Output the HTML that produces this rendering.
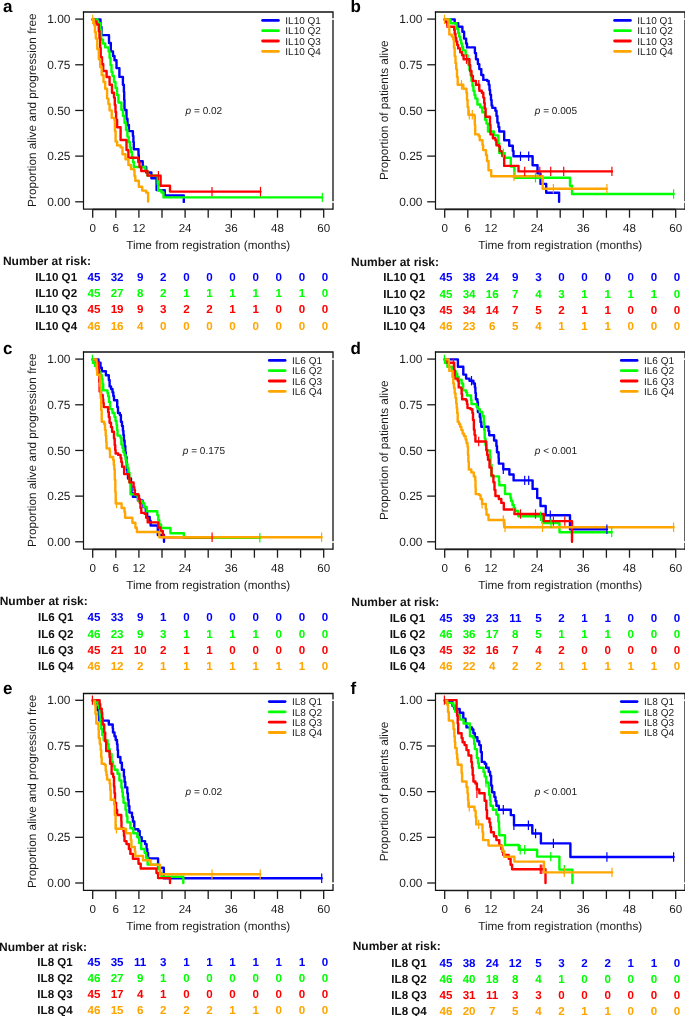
<!DOCTYPE html><html><head><meta charset="utf-8"><style>html,body{margin:0;padding:0;background:#fff;}svg{display:block;will-change:transform;} text{text-rendering:geometricPrecision;}</style></head><body>
<svg width="685" height="1016" viewBox="0 0 685 1016" font-family='"Liberation Sans", sans-serif'>
<rect x="0" y="0" width="685" height="1016" fill="#fff"/>
<g transform="translate(0,0)">
<text x="3" y="12.3" font-size="17" font-weight="bold" fill="#000">a</text>
<g transform="translate(0,0)">
<path d="M92.7 19.4H100.5V27H101.5V35.1H109V43H110.8V51.4H113V56H114.5V60.2H116.5V68.1H119.4V76.9H122.9V84.8H123.9V92H124.2V100H124.5V110H126.5V118.8H127.5V125H128.9V131.1H132.9V136H133.4V142H133.8V149.3H138.5V155H138.8V161.3H142.7V167H146.2V172.5H151.4V178.3H156.6V190.1H164.8V195.5H183.8V201.9" fill="none" stroke="#0000FF" stroke-width="2.4" stroke-linejoin="round" stroke-linecap="round"/>
<path d="M92.7 19.4H97.5V23.3H100.5V30H101.2V39.6H103V43.5H105.2V47.4H108.6V51.4H109.6V58H110.5V65H111.5V72H112.5V76H114V82H115.5V88H117V95H118.4V102.5H121.4V110H123V116H124.5V122.8H126V130H127.4V136.5H128.6V142H129.9V147.4H131V152H131.9V157.2H133V162H133.8V167H145.3V171H147.5V175.6H157.7V184H158.2V190.5H161.5V192.5H163.5V197.4H322.3" fill="none" stroke="#00FF00" stroke-width="2.4" stroke-linejoin="round" stroke-linecap="round"/>
<path d="M92.7 19.4H94.5V21.5H96.5V24.5H98.8V31H99.5V38.6H100.2V48H100.7V57.3H102V64H103.2V71H106.6V77H109.6V84.8H112V92.7H114V97.6H114.8V105H115.5V112H116.1V119.8H117.1V127.2H120.6V140H126.5V150H128.4V157.7H138.3V162.1H139.5V167H141.2V171H147.5V175.6H160.6V185.8H170V191.6H260.5" fill="none" stroke="#FF0000" stroke-width="2.4" stroke-linejoin="round" stroke-linecap="round"/>
<path d="M92.7 19.4H94V25H95V32H95.8V38.6H97.3V49H98.8V59.2H100.2V67H101.7V75H103.5V82H105.2V88.7H107.1V98.6H108.4V104H109.6V110.4H111.7V117.9H114.2V119.8H114.9V131H115.6V141.5H117.1V145.4H120.6V147.4H122.5V154.2H125.5V159.2H128.4V165H130.9V169H133.8V170H134.5V176H135.3V180.8H138.8V186.7H142.2V190.6H146.1V192.6H148.1V201.6" fill="none" stroke="#FFA500" stroke-width="2.4" stroke-linejoin="round" stroke-linecap="round"/>
<line x1="322.3" y1="192.7" x2="322.3" y2="202.1" stroke="#00FF00" stroke-width="1.2"/>
<line x1="158.4" y1="170.9" x2="158.4" y2="180.3" stroke="#FF0000" stroke-width="1.2"/>
<line x1="212" y1="186.9" x2="212" y2="196.3" stroke="#FF0000" stroke-width="1.2"/>
<line x1="260.5" y1="186.9" x2="260.5" y2="196.3" stroke="#FF0000" stroke-width="1.2"/>
<line x1="92.7" y1="14.7" x2="92.7" y2="24.1" stroke="#FFA500" stroke-width="1.2"/>
</g>
<path d="M83.5 11.4V209.2H333" fill="none" stroke="#111" stroke-width="1.2"/>
<path d="M82.9 12H333V209.8" fill="none" stroke="#111" stroke-width="1.3"/>
<rect x="332" y="18.25" width="2.4" height="1.6" fill="#fff"/>
<rect x="332" y="201.2" width="2.4" height="1.6" fill="#fff"/>
<line x1="75.2" y1="201.8" x2="83.5" y2="201.8" stroke="#1a1a1a" stroke-width="1.3"/>
<text x="70.4" y="205.95" font-size="11.9" text-anchor="end" fill="#1a1a1a">0.00</text>
<line x1="75.2" y1="156.12" x2="83.5" y2="156.12" stroke="#1a1a1a" stroke-width="1.3"/>
<text x="70.4" y="160.28" font-size="11.9" text-anchor="end" fill="#1a1a1a">0.25</text>
<line x1="75.2" y1="110.45" x2="83.5" y2="110.45" stroke="#1a1a1a" stroke-width="1.3"/>
<text x="70.4" y="114.6" font-size="11.9" text-anchor="end" fill="#1a1a1a">0.50</text>
<line x1="75.2" y1="64.78" x2="83.5" y2="64.78" stroke="#1a1a1a" stroke-width="1.3"/>
<text x="70.4" y="68.93" font-size="11.9" text-anchor="end" fill="#1a1a1a">0.75</text>
<line x1="75.2" y1="19.1" x2="83.5" y2="19.1" stroke="#1a1a1a" stroke-width="1.3"/>
<text x="70.4" y="23.25" font-size="11.9" text-anchor="end" fill="#1a1a1a">1.00</text>
<line x1="92.7" y1="209.5" x2="323.7" y2="209.5" stroke="#1a1a1a" stroke-width="1.3"/>
<line x1="92.7" y1="209.2" x2="92.7" y2="217.7" stroke="#1a1a1a" stroke-width="1.3"/>
<text x="92.7" y="231.6" font-size="11.6" text-anchor="middle" fill="#1a1a1a">0</text>
<line x1="115.8" y1="209.2" x2="115.8" y2="217.7" stroke="#1a1a1a" stroke-width="1.3"/>
<text x="115.8" y="231.6" font-size="11.6" text-anchor="middle" fill="#1a1a1a">6</text>
<line x1="138.9" y1="209.2" x2="138.9" y2="217.7" stroke="#1a1a1a" stroke-width="1.3"/>
<text x="138.9" y="231.6" font-size="11.6" text-anchor="middle" fill="#1a1a1a">12</text>
<line x1="162" y1="209.2" x2="162" y2="217.7" stroke="#1a1a1a" stroke-width="1.3"/>
<line x1="185.1" y1="209.2" x2="185.1" y2="217.7" stroke="#1a1a1a" stroke-width="1.3"/>
<text x="185.1" y="231.6" font-size="11.6" text-anchor="middle" fill="#1a1a1a">24</text>
<line x1="208.2" y1="209.2" x2="208.2" y2="217.7" stroke="#1a1a1a" stroke-width="1.3"/>
<line x1="231.3" y1="209.2" x2="231.3" y2="217.7" stroke="#1a1a1a" stroke-width="1.3"/>
<text x="231.3" y="231.6" font-size="11.6" text-anchor="middle" fill="#1a1a1a">36</text>
<line x1="254.4" y1="209.2" x2="254.4" y2="217.7" stroke="#1a1a1a" stroke-width="1.3"/>
<line x1="277.5" y1="209.2" x2="277.5" y2="217.7" stroke="#1a1a1a" stroke-width="1.3"/>
<text x="277.5" y="231.6" font-size="11.6" text-anchor="middle" fill="#1a1a1a">48</text>
<line x1="300.6" y1="209.2" x2="300.6" y2="217.7" stroke="#1a1a1a" stroke-width="1.3"/>
<line x1="323.7" y1="209.2" x2="323.7" y2="217.7" stroke="#1a1a1a" stroke-width="1.3"/>
<text x="323.7" y="231.6" font-size="11.6" text-anchor="middle" fill="#1a1a1a">60</text>
<text x="208.2" y="248.6" font-size="11.8" text-anchor="middle" fill="#1a1a1a">Time from registration (months)</text>
<text transform="translate(35.9,110.2) rotate(-90)" x="0" y="0" font-size="11.8" text-anchor="middle" fill="#1a1a1a">Proportion alive and progression free</text>
<line x1="262.6" y1="20.4" x2="278.4" y2="20.4" stroke="#0000FF" stroke-width="2.8" stroke-linecap="round"/>
<text x="285.3" y="24.1" font-size="10" fill="#1a1a1a">IL10 Q1</text>
<line x1="262.6" y1="30.7" x2="278.4" y2="30.7" stroke="#00FF00" stroke-width="2.8" stroke-linecap="round"/>
<text x="285.3" y="34.4" font-size="10" fill="#1a1a1a">IL10 Q2</text>
<line x1="262.6" y1="41" x2="278.4" y2="41" stroke="#FF0000" stroke-width="2.8" stroke-linecap="round"/>
<text x="285.3" y="44.7" font-size="10" fill="#1a1a1a">IL10 Q3</text>
<line x1="262.6" y1="51.3" x2="278.4" y2="51.3" stroke="#FFA500" stroke-width="2.8" stroke-linecap="round"/>
<text x="285.3" y="55" font-size="10" fill="#1a1a1a">IL10 Q4</text>
<text x="203.9" y="114" font-size="10.05" text-anchor="middle" fill="#1a1a1a"><tspan font-style="italic">p</tspan> = 0.02</text>
</g>
<text x="2.9" y="265.2" font-size="12" font-weight="bold" fill="#111">Number at risk:</text>
<text x="77.1" y="281.1" font-size="11.6" font-weight="bold" text-anchor="end" fill="#111">IL10 Q1</text>
<text x="94" y="281.1" font-size="11.6" font-weight="bold" text-anchor="middle" fill="#0000FF">45</text>
<text x="117.1" y="281.1" font-size="11.6" font-weight="bold" text-anchor="middle" fill="#0000FF">32</text>
<text x="140.2" y="281.1" font-size="11.6" font-weight="bold" text-anchor="middle" fill="#0000FF">9</text>
<text x="163.3" y="281.1" font-size="11.6" font-weight="bold" text-anchor="middle" fill="#0000FF">2</text>
<text x="186.4" y="281.1" font-size="11.6" font-weight="bold" text-anchor="middle" fill="#0000FF">0</text>
<text x="209.5" y="281.1" font-size="11.6" font-weight="bold" text-anchor="middle" fill="#0000FF">0</text>
<text x="232.6" y="281.1" font-size="11.6" font-weight="bold" text-anchor="middle" fill="#0000FF">0</text>
<text x="255.7" y="281.1" font-size="11.6" font-weight="bold" text-anchor="middle" fill="#0000FF">0</text>
<text x="278.8" y="281.1" font-size="11.6" font-weight="bold" text-anchor="middle" fill="#0000FF">0</text>
<text x="301.9" y="281.1" font-size="11.6" font-weight="bold" text-anchor="middle" fill="#0000FF">0</text>
<text x="325" y="281.1" font-size="11.6" font-weight="bold" text-anchor="middle" fill="#0000FF">0</text>
<text x="77.1" y="297.3" font-size="11.6" font-weight="bold" text-anchor="end" fill="#111">IL10 Q2</text>
<text x="94" y="297.3" font-size="11.6" font-weight="bold" text-anchor="middle" fill="#00FF00">45</text>
<text x="117.1" y="297.3" font-size="11.6" font-weight="bold" text-anchor="middle" fill="#00FF00">27</text>
<text x="140.2" y="297.3" font-size="11.6" font-weight="bold" text-anchor="middle" fill="#00FF00">8</text>
<text x="163.3" y="297.3" font-size="11.6" font-weight="bold" text-anchor="middle" fill="#00FF00">2</text>
<text x="186.4" y="297.3" font-size="11.6" font-weight="bold" text-anchor="middle" fill="#00FF00">1</text>
<text x="209.5" y="297.3" font-size="11.6" font-weight="bold" text-anchor="middle" fill="#00FF00">1</text>
<text x="232.6" y="297.3" font-size="11.6" font-weight="bold" text-anchor="middle" fill="#00FF00">1</text>
<text x="255.7" y="297.3" font-size="11.6" font-weight="bold" text-anchor="middle" fill="#00FF00">1</text>
<text x="278.8" y="297.3" font-size="11.6" font-weight="bold" text-anchor="middle" fill="#00FF00">1</text>
<text x="301.9" y="297.3" font-size="11.6" font-weight="bold" text-anchor="middle" fill="#00FF00">1</text>
<text x="325" y="297.3" font-size="11.6" font-weight="bold" text-anchor="middle" fill="#00FF00">0</text>
<text x="77.1" y="313.3" font-size="11.6" font-weight="bold" text-anchor="end" fill="#111">IL10 Q3</text>
<text x="94" y="313.3" font-size="11.6" font-weight="bold" text-anchor="middle" fill="#FF0000">45</text>
<text x="117.1" y="313.3" font-size="11.6" font-weight="bold" text-anchor="middle" fill="#FF0000">19</text>
<text x="140.2" y="313.3" font-size="11.6" font-weight="bold" text-anchor="middle" fill="#FF0000">9</text>
<text x="163.3" y="313.3" font-size="11.6" font-weight="bold" text-anchor="middle" fill="#FF0000">3</text>
<text x="186.4" y="313.3" font-size="11.6" font-weight="bold" text-anchor="middle" fill="#FF0000">2</text>
<text x="209.5" y="313.3" font-size="11.6" font-weight="bold" text-anchor="middle" fill="#FF0000">2</text>
<text x="232.6" y="313.3" font-size="11.6" font-weight="bold" text-anchor="middle" fill="#FF0000">1</text>
<text x="255.7" y="313.3" font-size="11.6" font-weight="bold" text-anchor="middle" fill="#FF0000">1</text>
<text x="278.8" y="313.3" font-size="11.6" font-weight="bold" text-anchor="middle" fill="#FF0000">0</text>
<text x="301.9" y="313.3" font-size="11.6" font-weight="bold" text-anchor="middle" fill="#FF0000">0</text>
<text x="325" y="313.3" font-size="11.6" font-weight="bold" text-anchor="middle" fill="#FF0000">0</text>
<text x="77.1" y="329.5" font-size="11.6" font-weight="bold" text-anchor="end" fill="#111">IL10 Q4</text>
<text x="94" y="329.5" font-size="11.6" font-weight="bold" text-anchor="middle" fill="#FFA500">46</text>
<text x="117.1" y="329.5" font-size="11.6" font-weight="bold" text-anchor="middle" fill="#FFA500">16</text>
<text x="140.2" y="329.5" font-size="11.6" font-weight="bold" text-anchor="middle" fill="#FFA500">4</text>
<text x="163.3" y="329.5" font-size="11.6" font-weight="bold" text-anchor="middle" fill="#FFA500">0</text>
<text x="186.4" y="329.5" font-size="11.6" font-weight="bold" text-anchor="middle" fill="#FFA500">0</text>
<text x="209.5" y="329.5" font-size="11.6" font-weight="bold" text-anchor="middle" fill="#FFA500">0</text>
<text x="232.6" y="329.5" font-size="11.6" font-weight="bold" text-anchor="middle" fill="#FFA500">0</text>
<text x="255.7" y="329.5" font-size="11.6" font-weight="bold" text-anchor="middle" fill="#FFA500">0</text>
<text x="278.8" y="329.5" font-size="11.6" font-weight="bold" text-anchor="middle" fill="#FFA500">0</text>
<text x="301.9" y="329.5" font-size="11.6" font-weight="bold" text-anchor="middle" fill="#FFA500">0</text>
<text x="325" y="329.5" font-size="11.6" font-weight="bold" text-anchor="middle" fill="#FFA500">0</text>
<g transform="translate(352,0)">
<text x="-1.4" y="12.3" font-size="17" font-weight="bold" fill="#000">b</text>
<g transform="translate(-352,0)">
<path d="M444.7 19.4H454.7V23.3H458.2V26.8H462.4V31.7H464.1V38.6H466.1V43.5H467V47.4H474.9V53H476V59.2H477.9V64.1H479.3V69.1H481.3V75H483.3V79.9H487.2V80.9H488.7V84.8H489.5V90H490.1V94.6H491V100H491.6V105.4H492.4V107.9H495.4V110.8H496.5V116H497.4V122.6H498.5V127H499.3V131.5H504.2V140.3H509.2V145.7H512.8V151H513.5V156.3H532.6V165.2H537.5V173.4H540.5V183.9H546.2V192.8H559.1V201.8" fill="none" stroke="#0000FF" stroke-width="2.4" stroke-linejoin="round" stroke-linecap="round"/>
<path d="M444.7 19.4H450.5V23.3H456.5V28.7H458.2V33H459.2V36.6H460.2V40H461.1V43.5H462.1V47H463.1V50.4H465.6V55.3H467.5V61.2H468.5V65H469.5V70H470.5V75H471.5V80.9H472.5V86H473.4V90.7H474.5V95H475.4V98.6H477.4V104.5H480.3V107.4H482.3V112.3H485.1V119.7H486.5V123.6H488V131.5H493.9V135.4H498.3V143.3H499.3V153.1H504.7V157.8H510.8V166.5H514.4V177.8H570V185.8H572V194H673.6" fill="none" stroke="#00FF00" stroke-width="2.4" stroke-linejoin="round" stroke-linecap="round"/>
<path d="M444.7 19.4H445.5V22H447.4V26.8H454.2V30H454.7V33.7H455.5V38H456.2V41.5H457.2V45H458.2V48.4H460.2V52.3H462.1V55.3H463.6V59.2H469.5V65H470.2V71H471.5V76H472.9V80.9H475.9V84.8H479.3V90.7H481.8V92.7H483.3V97.6H484.2V103H484.7V108.4H485.6V116.7H490V125H490.5V134.4H492.9V138.3H495.4V140.3H496.4V145.2H498.8V146.2H499.8V151.1H501.8V152.1H502.3V156H504.2V165.9H518.5V171.4H611.9" fill="none" stroke="#FF0000" stroke-width="2.4" stroke-linejoin="round" stroke-linecap="round"/>
<path d="M444.7 19.4H448.4V27H449.3V34.6H451.8V36.6H453.3V39.6H454V48H454.7V56.3H455.5V63H456.2V69.1H457V77H457.7V84.8H463.3V88.7H466.5V93H467V100H467.6V107H468.4V114.7H474.3V116H474.8V125H475.2V134.4H478.7V136H479.7V140.3H482.5V145H483.1V150.1H486V155H487V161H488.5V170.3H491.2V176.2H542.7V188.8H606.9" fill="none" stroke="#FFA500" stroke-width="2.4" stroke-linejoin="round" stroke-linecap="round"/>
<line x1="520.5" y1="151.6" x2="520.5" y2="161" stroke="#0000FF" stroke-width="1.2"/>
<line x1="528.7" y1="151.6" x2="528.7" y2="161" stroke="#0000FF" stroke-width="1.2"/>
<line x1="503.3" y1="148.4" x2="503.3" y2="157.8" stroke="#00FF00" stroke-width="1.2"/>
<line x1="535.5" y1="173.1" x2="535.5" y2="182.5" stroke="#00FF00" stroke-width="1.2"/>
<line x1="673.6" y1="189.3" x2="673.6" y2="198.7" stroke="#00FF00" stroke-width="1.2"/>
<line x1="466.5" y1="54.5" x2="466.5" y2="63.9" stroke="#FF0000" stroke-width="1.2"/>
<line x1="478.8" y1="80.1" x2="478.8" y2="89.5" stroke="#FF0000" stroke-width="1.2"/>
<line x1="524.7" y1="166.7" x2="524.7" y2="176.1" stroke="#FF0000" stroke-width="1.2"/>
<line x1="539.8" y1="166.7" x2="539.8" y2="176.1" stroke="#FF0000" stroke-width="1.2"/>
<line x1="550.7" y1="166.7" x2="550.7" y2="176.1" stroke="#FF0000" stroke-width="1.2"/>
<line x1="563.7" y1="166.7" x2="563.7" y2="176.1" stroke="#FF0000" stroke-width="1.2"/>
<line x1="611.9" y1="166.7" x2="611.9" y2="176.1" stroke="#FF0000" stroke-width="1.2"/>
<line x1="444.5" y1="14.7" x2="444.5" y2="24.1" stroke="#FFA500" stroke-width="1.2"/>
<line x1="461.5" y1="80.1" x2="461.5" y2="89.5" stroke="#FFA500" stroke-width="1.2"/>
<line x1="469.3" y1="110" x2="469.3" y2="119.4" stroke="#FFA500" stroke-width="1.2"/>
<line x1="472.3" y1="110" x2="472.3" y2="119.4" stroke="#FFA500" stroke-width="1.2"/>
<line x1="514" y1="171.5" x2="514" y2="180.9" stroke="#FFA500" stroke-width="1.2"/>
<line x1="553.4" y1="184.1" x2="553.4" y2="193.5" stroke="#FFA500" stroke-width="1.2"/>
<line x1="606.9" y1="184.1" x2="606.9" y2="193.5" stroke="#FFA500" stroke-width="1.2"/>
</g>
<path d="M83.5 11.4V209.2H333" fill="none" stroke="#111" stroke-width="1.2"/>
<path d="M82.9 12H333V209.8" fill="none" stroke="#111" stroke-width="1.3"/>
<rect x="332" y="18.25" width="2.4" height="1.6" fill="#fff"/>
<rect x="332" y="201.2" width="2.4" height="1.6" fill="#fff"/>
<line x1="75.2" y1="201.8" x2="83.5" y2="201.8" stroke="#1a1a1a" stroke-width="1.3"/>
<text x="70.4" y="205.95" font-size="11.9" text-anchor="end" fill="#1a1a1a">0.00</text>
<line x1="75.2" y1="156.12" x2="83.5" y2="156.12" stroke="#1a1a1a" stroke-width="1.3"/>
<text x="70.4" y="160.28" font-size="11.9" text-anchor="end" fill="#1a1a1a">0.25</text>
<line x1="75.2" y1="110.45" x2="83.5" y2="110.45" stroke="#1a1a1a" stroke-width="1.3"/>
<text x="70.4" y="114.6" font-size="11.9" text-anchor="end" fill="#1a1a1a">0.50</text>
<line x1="75.2" y1="64.78" x2="83.5" y2="64.78" stroke="#1a1a1a" stroke-width="1.3"/>
<text x="70.4" y="68.93" font-size="11.9" text-anchor="end" fill="#1a1a1a">0.75</text>
<line x1="75.2" y1="19.1" x2="83.5" y2="19.1" stroke="#1a1a1a" stroke-width="1.3"/>
<text x="70.4" y="23.25" font-size="11.9" text-anchor="end" fill="#1a1a1a">1.00</text>
<line x1="92.7" y1="209.5" x2="323.7" y2="209.5" stroke="#1a1a1a" stroke-width="1.3"/>
<line x1="92.7" y1="209.2" x2="92.7" y2="217.7" stroke="#1a1a1a" stroke-width="1.3"/>
<text x="92.7" y="231.6" font-size="11.6" text-anchor="middle" fill="#1a1a1a">0</text>
<line x1="115.8" y1="209.2" x2="115.8" y2="217.7" stroke="#1a1a1a" stroke-width="1.3"/>
<text x="115.8" y="231.6" font-size="11.6" text-anchor="middle" fill="#1a1a1a">6</text>
<line x1="138.9" y1="209.2" x2="138.9" y2="217.7" stroke="#1a1a1a" stroke-width="1.3"/>
<text x="138.9" y="231.6" font-size="11.6" text-anchor="middle" fill="#1a1a1a">12</text>
<line x1="162" y1="209.2" x2="162" y2="217.7" stroke="#1a1a1a" stroke-width="1.3"/>
<line x1="185.1" y1="209.2" x2="185.1" y2="217.7" stroke="#1a1a1a" stroke-width="1.3"/>
<text x="185.1" y="231.6" font-size="11.6" text-anchor="middle" fill="#1a1a1a">24</text>
<line x1="208.2" y1="209.2" x2="208.2" y2="217.7" stroke="#1a1a1a" stroke-width="1.3"/>
<line x1="231.3" y1="209.2" x2="231.3" y2="217.7" stroke="#1a1a1a" stroke-width="1.3"/>
<text x="231.3" y="231.6" font-size="11.6" text-anchor="middle" fill="#1a1a1a">36</text>
<line x1="254.4" y1="209.2" x2="254.4" y2="217.7" stroke="#1a1a1a" stroke-width="1.3"/>
<line x1="277.5" y1="209.2" x2="277.5" y2="217.7" stroke="#1a1a1a" stroke-width="1.3"/>
<text x="277.5" y="231.6" font-size="11.6" text-anchor="middle" fill="#1a1a1a">48</text>
<line x1="300.6" y1="209.2" x2="300.6" y2="217.7" stroke="#1a1a1a" stroke-width="1.3"/>
<line x1="323.7" y1="209.2" x2="323.7" y2="217.7" stroke="#1a1a1a" stroke-width="1.3"/>
<text x="323.7" y="231.6" font-size="11.6" text-anchor="middle" fill="#1a1a1a">60</text>
<text x="208.2" y="248.6" font-size="11.8" text-anchor="middle" fill="#1a1a1a">Time from registration (months)</text>
<text transform="translate(35.9,110.2) rotate(-90)" x="0" y="0" font-size="11.8" text-anchor="middle" fill="#1a1a1a">Proportion of patients alive</text>
<line x1="262.6" y1="20.4" x2="278.4" y2="20.4" stroke="#0000FF" stroke-width="2.8" stroke-linecap="round"/>
<text x="285.3" y="24.1" font-size="10" fill="#1a1a1a">IL10 Q1</text>
<line x1="262.6" y1="30.7" x2="278.4" y2="30.7" stroke="#00FF00" stroke-width="2.8" stroke-linecap="round"/>
<text x="285.3" y="34.4" font-size="10" fill="#1a1a1a">IL10 Q2</text>
<line x1="262.6" y1="41" x2="278.4" y2="41" stroke="#FF0000" stroke-width="2.8" stroke-linecap="round"/>
<text x="285.3" y="44.7" font-size="10" fill="#1a1a1a">IL10 Q3</text>
<line x1="262.6" y1="51.3" x2="278.4" y2="51.3" stroke="#FFA500" stroke-width="2.8" stroke-linecap="round"/>
<text x="285.3" y="55" font-size="10" fill="#1a1a1a">IL10 Q4</text>
<text x="203.9" y="114" font-size="10.05" text-anchor="middle" fill="#1a1a1a"><tspan font-style="italic">p</tspan> = 0.005</text>
</g>
<text x="351" y="265.6" font-size="12" font-weight="bold" fill="#111">Number at risk:</text>
<text x="425.1" y="281.4" font-size="11.6" font-weight="bold" text-anchor="end" fill="#111">IL10 Q1</text>
<text x="446" y="281.4" font-size="11.6" font-weight="bold" text-anchor="middle" fill="#0000FF">45</text>
<text x="469.1" y="281.4" font-size="11.6" font-weight="bold" text-anchor="middle" fill="#0000FF">38</text>
<text x="492.2" y="281.4" font-size="11.6" font-weight="bold" text-anchor="middle" fill="#0000FF">24</text>
<text x="515.3" y="281.4" font-size="11.6" font-weight="bold" text-anchor="middle" fill="#0000FF">9</text>
<text x="538.4" y="281.4" font-size="11.6" font-weight="bold" text-anchor="middle" fill="#0000FF">3</text>
<text x="561.5" y="281.4" font-size="11.6" font-weight="bold" text-anchor="middle" fill="#0000FF">0</text>
<text x="584.6" y="281.4" font-size="11.6" font-weight="bold" text-anchor="middle" fill="#0000FF">0</text>
<text x="607.7" y="281.4" font-size="11.6" font-weight="bold" text-anchor="middle" fill="#0000FF">0</text>
<text x="630.8" y="281.4" font-size="11.6" font-weight="bold" text-anchor="middle" fill="#0000FF">0</text>
<text x="653.9" y="281.4" font-size="11.6" font-weight="bold" text-anchor="middle" fill="#0000FF">0</text>
<text x="677" y="281.4" font-size="11.6" font-weight="bold" text-anchor="middle" fill="#0000FF">0</text>
<text x="425.1" y="297.6" font-size="11.6" font-weight="bold" text-anchor="end" fill="#111">IL10 Q2</text>
<text x="446" y="297.6" font-size="11.6" font-weight="bold" text-anchor="middle" fill="#00FF00">45</text>
<text x="469.1" y="297.6" font-size="11.6" font-weight="bold" text-anchor="middle" fill="#00FF00">34</text>
<text x="492.2" y="297.6" font-size="11.6" font-weight="bold" text-anchor="middle" fill="#00FF00">16</text>
<text x="515.3" y="297.6" font-size="11.6" font-weight="bold" text-anchor="middle" fill="#00FF00">7</text>
<text x="538.4" y="297.6" font-size="11.6" font-weight="bold" text-anchor="middle" fill="#00FF00">4</text>
<text x="561.5" y="297.6" font-size="11.6" font-weight="bold" text-anchor="middle" fill="#00FF00">3</text>
<text x="584.6" y="297.6" font-size="11.6" font-weight="bold" text-anchor="middle" fill="#00FF00">1</text>
<text x="607.7" y="297.6" font-size="11.6" font-weight="bold" text-anchor="middle" fill="#00FF00">1</text>
<text x="630.8" y="297.6" font-size="11.6" font-weight="bold" text-anchor="middle" fill="#00FF00">1</text>
<text x="653.9" y="297.6" font-size="11.6" font-weight="bold" text-anchor="middle" fill="#00FF00">1</text>
<text x="677" y="297.6" font-size="11.6" font-weight="bold" text-anchor="middle" fill="#00FF00">0</text>
<text x="425.1" y="313.8" font-size="11.6" font-weight="bold" text-anchor="end" fill="#111">IL10 Q3</text>
<text x="446" y="313.8" font-size="11.6" font-weight="bold" text-anchor="middle" fill="#FF0000">45</text>
<text x="469.1" y="313.8" font-size="11.6" font-weight="bold" text-anchor="middle" fill="#FF0000">34</text>
<text x="492.2" y="313.8" font-size="11.6" font-weight="bold" text-anchor="middle" fill="#FF0000">14</text>
<text x="515.3" y="313.8" font-size="11.6" font-weight="bold" text-anchor="middle" fill="#FF0000">7</text>
<text x="538.4" y="313.8" font-size="11.6" font-weight="bold" text-anchor="middle" fill="#FF0000">5</text>
<text x="561.5" y="313.8" font-size="11.6" font-weight="bold" text-anchor="middle" fill="#FF0000">2</text>
<text x="584.6" y="313.8" font-size="11.6" font-weight="bold" text-anchor="middle" fill="#FF0000">1</text>
<text x="607.7" y="313.8" font-size="11.6" font-weight="bold" text-anchor="middle" fill="#FF0000">1</text>
<text x="630.8" y="313.8" font-size="11.6" font-weight="bold" text-anchor="middle" fill="#FF0000">0</text>
<text x="653.9" y="313.8" font-size="11.6" font-weight="bold" text-anchor="middle" fill="#FF0000">0</text>
<text x="677" y="313.8" font-size="11.6" font-weight="bold" text-anchor="middle" fill="#FF0000">0</text>
<text x="425.1" y="329.8" font-size="11.6" font-weight="bold" text-anchor="end" fill="#111">IL10 Q4</text>
<text x="446" y="329.8" font-size="11.6" font-weight="bold" text-anchor="middle" fill="#FFA500">46</text>
<text x="469.1" y="329.8" font-size="11.6" font-weight="bold" text-anchor="middle" fill="#FFA500">23</text>
<text x="492.2" y="329.8" font-size="11.6" font-weight="bold" text-anchor="middle" fill="#FFA500">6</text>
<text x="515.3" y="329.8" font-size="11.6" font-weight="bold" text-anchor="middle" fill="#FFA500">5</text>
<text x="538.4" y="329.8" font-size="11.6" font-weight="bold" text-anchor="middle" fill="#FFA500">4</text>
<text x="561.5" y="329.8" font-size="11.6" font-weight="bold" text-anchor="middle" fill="#FFA500">1</text>
<text x="584.6" y="329.8" font-size="11.6" font-weight="bold" text-anchor="middle" fill="#FFA500">1</text>
<text x="607.7" y="329.8" font-size="11.6" font-weight="bold" text-anchor="middle" fill="#FFA500">1</text>
<text x="630.8" y="329.8" font-size="11.6" font-weight="bold" text-anchor="middle" fill="#FFA500">0</text>
<text x="653.9" y="329.8" font-size="11.6" font-weight="bold" text-anchor="middle" fill="#FFA500">0</text>
<text x="677" y="329.8" font-size="11.6" font-weight="bold" text-anchor="middle" fill="#FFA500">0</text>
<g transform="translate(0,340)">
<text x="3" y="13.5" font-size="17" font-weight="bold" fill="#000">c</text>
<g transform="translate(0,-340)">
<path d="M92.7 359.4H98.5V362.8H100.5V367.8H101.8V371.2H105.9V375.3H108.8V380H109.6V386.4H111V389H112.5V392.3H113.3V396H114V400.2H117.2V407H118V413H119.9V415H120.9V421.8H122V426H122.9V430.7H123.4V435H123.9V440.5H124.6V446H125.3V452.3H125.8V457H126.5V462.8H126.8V469.7H127.5V474H128V478.5H131V486H131.5V493.3H132.9V496.7H137.9V500.5H142.5V503H143.5V507H145.8V511H147.2V516.9H149.7V520.8H150.6V525.5H157.8V535H164V541.8" fill="none" stroke="#0000FF" stroke-width="2.4" stroke-linejoin="round" stroke-linecap="round"/>
<path d="M92.7 359.4H93.5V363H95V366H97V369H99V372H100.5V375H101.7V378.6H102.5V384H103.2V390.4H107.5V393H108.1V396.3H109V402H110.1V409.1H112.5V413H114.5V416.9H115.5V421H116.5V424.8H117V430H117.5V435.6H120.4V437.6H121.4V444.5H122.5V448H123.4V452.3H124.5V455H125.6V459.8H126.5V464H127.5V468H128.5V472.6H129.5V482.4H130.5V494.2H137.5V497H138.3V501.1H142.3V503.1H144.2V507H146.7V511.3H157.3V515.1H158.3V520H159.3V524.5H161.1V528H170.4V533.2H183.9V537.8H259.8" fill="none" stroke="#00FF00" stroke-width="2.4" stroke-linejoin="round" stroke-linecap="round"/>
<path d="M92.7 359.4H96V362.8H98.8V368H99V374H99.3V382H99.6V391.4H101V395H102.7V399.2H103.2V403H103.7V407.1H108.1V412H108.8V417H109.6V422.8H111V427H112.1V431.7H114V438.6H114.7V445H115.2V450H115.6V453.5H118.2V454.9H120.6V457.9H121.3V462H122.1V466.7H124.1V474.1H128.9V478H129.5V482.4H133.6V487H134.3V490H134.9V494.2H138.3V495.5H139V499H139.8V503.1H140.5V508H141.3V512.9H144.7V513.9H146.2V517.8H147.7V522.4H158.3V527.5H160.5V531H162.8V534.4H163.5V537.3H212.1" fill="none" stroke="#FF0000" stroke-width="2.4" stroke-linejoin="round" stroke-linecap="round"/>
<path d="M92.7 359.4H96.5V364H96.8V370H97.2V374.8H99.8V378H100.2V386H100.7V398.2H101.2V410H101.7V421.8H104.2V424H105V430H105.7V435.6H106.2V442H106.6V448.4H109.6V450.4H110V457H113.2V460H113.8V465H114.3V469.7H114.8V480H115.3V492H115.7V503.5H121.6V508H124.5V512H125.1V517.8H132.4V522.8H135.4V527.7H136.9V532H159.3V537.3H321.6" fill="none" stroke="#FFA500" stroke-width="2.4" stroke-linejoin="round" stroke-linecap="round"/>
<line x1="92.4" y1="354.7" x2="92.4" y2="364.1" stroke="#00FF00" stroke-width="1.2"/>
<line x1="259.8" y1="533.1" x2="259.8" y2="542.5" stroke="#00FF00" stroke-width="1.2"/>
<line x1="212.1" y1="532.6" x2="212.1" y2="542" stroke="#FF0000" stroke-width="1.2"/>
<line x1="116.5" y1="498.8" x2="116.5" y2="508.2" stroke="#FFA500" stroke-width="1.2"/>
<line x1="321.6" y1="532.6" x2="321.6" y2="542" stroke="#FFA500" stroke-width="1.2"/>
</g>
<path d="M83.5 11.4V209.2H333" fill="none" stroke="#111" stroke-width="1.2"/>
<path d="M82.9 12H333V209.8" fill="none" stroke="#111" stroke-width="1.3"/>
<rect x="332" y="18.25" width="2.4" height="1.6" fill="#fff"/>
<rect x="332" y="201.2" width="2.4" height="1.6" fill="#fff"/>
<line x1="75.2" y1="201.8" x2="83.5" y2="201.8" stroke="#1a1a1a" stroke-width="1.3"/>
<text x="70.4" y="205.95" font-size="11.9" text-anchor="end" fill="#1a1a1a">0.00</text>
<line x1="75.2" y1="156.12" x2="83.5" y2="156.12" stroke="#1a1a1a" stroke-width="1.3"/>
<text x="70.4" y="160.28" font-size="11.9" text-anchor="end" fill="#1a1a1a">0.25</text>
<line x1="75.2" y1="110.45" x2="83.5" y2="110.45" stroke="#1a1a1a" stroke-width="1.3"/>
<text x="70.4" y="114.6" font-size="11.9" text-anchor="end" fill="#1a1a1a">0.50</text>
<line x1="75.2" y1="64.78" x2="83.5" y2="64.78" stroke="#1a1a1a" stroke-width="1.3"/>
<text x="70.4" y="68.93" font-size="11.9" text-anchor="end" fill="#1a1a1a">0.75</text>
<line x1="75.2" y1="19.1" x2="83.5" y2="19.1" stroke="#1a1a1a" stroke-width="1.3"/>
<text x="70.4" y="23.25" font-size="11.9" text-anchor="end" fill="#1a1a1a">1.00</text>
<line x1="92.7" y1="209.5" x2="323.7" y2="209.5" stroke="#1a1a1a" stroke-width="1.3"/>
<line x1="92.7" y1="209.2" x2="92.7" y2="217.7" stroke="#1a1a1a" stroke-width="1.3"/>
<text x="92.7" y="231.6" font-size="11.6" text-anchor="middle" fill="#1a1a1a">0</text>
<line x1="115.8" y1="209.2" x2="115.8" y2="217.7" stroke="#1a1a1a" stroke-width="1.3"/>
<text x="115.8" y="231.6" font-size="11.6" text-anchor="middle" fill="#1a1a1a">6</text>
<line x1="138.9" y1="209.2" x2="138.9" y2="217.7" stroke="#1a1a1a" stroke-width="1.3"/>
<text x="138.9" y="231.6" font-size="11.6" text-anchor="middle" fill="#1a1a1a">12</text>
<line x1="162" y1="209.2" x2="162" y2="217.7" stroke="#1a1a1a" stroke-width="1.3"/>
<line x1="185.1" y1="209.2" x2="185.1" y2="217.7" stroke="#1a1a1a" stroke-width="1.3"/>
<text x="185.1" y="231.6" font-size="11.6" text-anchor="middle" fill="#1a1a1a">24</text>
<line x1="208.2" y1="209.2" x2="208.2" y2="217.7" stroke="#1a1a1a" stroke-width="1.3"/>
<line x1="231.3" y1="209.2" x2="231.3" y2="217.7" stroke="#1a1a1a" stroke-width="1.3"/>
<text x="231.3" y="231.6" font-size="11.6" text-anchor="middle" fill="#1a1a1a">36</text>
<line x1="254.4" y1="209.2" x2="254.4" y2="217.7" stroke="#1a1a1a" stroke-width="1.3"/>
<line x1="277.5" y1="209.2" x2="277.5" y2="217.7" stroke="#1a1a1a" stroke-width="1.3"/>
<text x="277.5" y="231.6" font-size="11.6" text-anchor="middle" fill="#1a1a1a">48</text>
<line x1="300.6" y1="209.2" x2="300.6" y2="217.7" stroke="#1a1a1a" stroke-width="1.3"/>
<line x1="323.7" y1="209.2" x2="323.7" y2="217.7" stroke="#1a1a1a" stroke-width="1.3"/>
<text x="323.7" y="231.6" font-size="11.6" text-anchor="middle" fill="#1a1a1a">60</text>
<text x="208.2" y="248.6" font-size="11.8" text-anchor="middle" fill="#1a1a1a">Time from registration (months)</text>
<text transform="translate(35.9,110.2) rotate(-90)" x="0" y="0" font-size="11.8" text-anchor="middle" fill="#1a1a1a">Proportion alive and progression free</text>
<line x1="269.3" y1="20.4" x2="285.1" y2="20.4" stroke="#0000FF" stroke-width="2.8" stroke-linecap="round"/>
<text x="292" y="24.1" font-size="10" fill="#1a1a1a">IL6 Q1</text>
<line x1="269.3" y1="30.7" x2="285.1" y2="30.7" stroke="#00FF00" stroke-width="2.8" stroke-linecap="round"/>
<text x="292" y="34.4" font-size="10" fill="#1a1a1a">IL6 Q2</text>
<line x1="269.3" y1="41" x2="285.1" y2="41" stroke="#FF0000" stroke-width="2.8" stroke-linecap="round"/>
<text x="292" y="44.7" font-size="10" fill="#1a1a1a">IL6 Q3</text>
<line x1="269.3" y1="51.3" x2="285.1" y2="51.3" stroke="#FFA500" stroke-width="2.8" stroke-linecap="round"/>
<text x="292" y="55" font-size="10" fill="#1a1a1a">IL6 Q4</text>
<text x="203.9" y="114" font-size="10.05" text-anchor="middle" fill="#1a1a1a"><tspan font-style="italic">p</tspan> = 0.175</text>
</g>
<text x="-0.3" y="605.3" font-size="12" font-weight="bold" fill="#111">Number at risk:</text>
<text x="73.5" y="621.4" font-size="11.6" font-weight="bold" text-anchor="end" fill="#111">IL6 Q1</text>
<text x="94" y="621.4" font-size="11.6" font-weight="bold" text-anchor="middle" fill="#0000FF">45</text>
<text x="117.1" y="621.4" font-size="11.6" font-weight="bold" text-anchor="middle" fill="#0000FF">33</text>
<text x="140.2" y="621.4" font-size="11.6" font-weight="bold" text-anchor="middle" fill="#0000FF">9</text>
<text x="163.3" y="621.4" font-size="11.6" font-weight="bold" text-anchor="middle" fill="#0000FF">1</text>
<text x="186.4" y="621.4" font-size="11.6" font-weight="bold" text-anchor="middle" fill="#0000FF">0</text>
<text x="209.5" y="621.4" font-size="11.6" font-weight="bold" text-anchor="middle" fill="#0000FF">0</text>
<text x="232.6" y="621.4" font-size="11.6" font-weight="bold" text-anchor="middle" fill="#0000FF">0</text>
<text x="255.7" y="621.4" font-size="11.6" font-weight="bold" text-anchor="middle" fill="#0000FF">0</text>
<text x="278.8" y="621.4" font-size="11.6" font-weight="bold" text-anchor="middle" fill="#0000FF">0</text>
<text x="301.9" y="621.4" font-size="11.6" font-weight="bold" text-anchor="middle" fill="#0000FF">0</text>
<text x="325" y="621.4" font-size="11.6" font-weight="bold" text-anchor="middle" fill="#0000FF">0</text>
<text x="73.5" y="637.5" font-size="11.6" font-weight="bold" text-anchor="end" fill="#111">IL6 Q2</text>
<text x="94" y="637.5" font-size="11.6" font-weight="bold" text-anchor="middle" fill="#00FF00">46</text>
<text x="117.1" y="637.5" font-size="11.6" font-weight="bold" text-anchor="middle" fill="#00FF00">23</text>
<text x="140.2" y="637.5" font-size="11.6" font-weight="bold" text-anchor="middle" fill="#00FF00">9</text>
<text x="163.3" y="637.5" font-size="11.6" font-weight="bold" text-anchor="middle" fill="#00FF00">3</text>
<text x="186.4" y="637.5" font-size="11.6" font-weight="bold" text-anchor="middle" fill="#00FF00">1</text>
<text x="209.5" y="637.5" font-size="11.6" font-weight="bold" text-anchor="middle" fill="#00FF00">1</text>
<text x="232.6" y="637.5" font-size="11.6" font-weight="bold" text-anchor="middle" fill="#00FF00">1</text>
<text x="255.7" y="637.5" font-size="11.6" font-weight="bold" text-anchor="middle" fill="#00FF00">1</text>
<text x="278.8" y="637.5" font-size="11.6" font-weight="bold" text-anchor="middle" fill="#00FF00">0</text>
<text x="301.9" y="637.5" font-size="11.6" font-weight="bold" text-anchor="middle" fill="#00FF00">0</text>
<text x="325" y="637.5" font-size="11.6" font-weight="bold" text-anchor="middle" fill="#00FF00">0</text>
<text x="73.5" y="653.7" font-size="11.6" font-weight="bold" text-anchor="end" fill="#111">IL6 Q3</text>
<text x="94" y="653.7" font-size="11.6" font-weight="bold" text-anchor="middle" fill="#FF0000">45</text>
<text x="117.1" y="653.7" font-size="11.6" font-weight="bold" text-anchor="middle" fill="#FF0000">21</text>
<text x="140.2" y="653.7" font-size="11.6" font-weight="bold" text-anchor="middle" fill="#FF0000">10</text>
<text x="163.3" y="653.7" font-size="11.6" font-weight="bold" text-anchor="middle" fill="#FF0000">2</text>
<text x="186.4" y="653.7" font-size="11.6" font-weight="bold" text-anchor="middle" fill="#FF0000">1</text>
<text x="209.5" y="653.7" font-size="11.6" font-weight="bold" text-anchor="middle" fill="#FF0000">1</text>
<text x="232.6" y="653.7" font-size="11.6" font-weight="bold" text-anchor="middle" fill="#FF0000">0</text>
<text x="255.7" y="653.7" font-size="11.6" font-weight="bold" text-anchor="middle" fill="#FF0000">0</text>
<text x="278.8" y="653.7" font-size="11.6" font-weight="bold" text-anchor="middle" fill="#FF0000">0</text>
<text x="301.9" y="653.7" font-size="11.6" font-weight="bold" text-anchor="middle" fill="#FF0000">0</text>
<text x="325" y="653.7" font-size="11.6" font-weight="bold" text-anchor="middle" fill="#FF0000">0</text>
<text x="73.5" y="669.9" font-size="11.6" font-weight="bold" text-anchor="end" fill="#111">IL6 Q4</text>
<text x="94" y="669.9" font-size="11.6" font-weight="bold" text-anchor="middle" fill="#FFA500">46</text>
<text x="117.1" y="669.9" font-size="11.6" font-weight="bold" text-anchor="middle" fill="#FFA500">12</text>
<text x="140.2" y="669.9" font-size="11.6" font-weight="bold" text-anchor="middle" fill="#FFA500">2</text>
<text x="163.3" y="669.9" font-size="11.6" font-weight="bold" text-anchor="middle" fill="#FFA500">1</text>
<text x="186.4" y="669.9" font-size="11.6" font-weight="bold" text-anchor="middle" fill="#FFA500">1</text>
<text x="209.5" y="669.9" font-size="11.6" font-weight="bold" text-anchor="middle" fill="#FFA500">1</text>
<text x="232.6" y="669.9" font-size="11.6" font-weight="bold" text-anchor="middle" fill="#FFA500">1</text>
<text x="255.7" y="669.9" font-size="11.6" font-weight="bold" text-anchor="middle" fill="#FFA500">1</text>
<text x="278.8" y="669.9" font-size="11.6" font-weight="bold" text-anchor="middle" fill="#FFA500">1</text>
<text x="301.9" y="669.9" font-size="11.6" font-weight="bold" text-anchor="middle" fill="#FFA500">1</text>
<text x="325" y="669.9" font-size="11.6" font-weight="bold" text-anchor="middle" fill="#FFA500">0</text>
<g transform="translate(352,340)">
<text x="-1.6" y="13.6" font-size="17" font-weight="bold" fill="#000">d</text>
<g transform="translate(-352,-340)">
<path d="M444.7 359.4H457.9V366.8H463.3V374.6H466.1V378.6H469.5V380.7H473.4V383.5H474.9V387.4H475.4V393H475.9V399.2H477.4V402.2H477.9V412H479.8V416.9H480.5V422H481.3V426.8H488.5V431H489.2V435.2H494.1V440.5H496.4V446H497V452.3H498.6V458H498.8V463.6H503.3V469.3H509.4V474.5H513.6V480.4H532.6V488.9H537.2V498.1H540.5V506H545.7V515.2H570V529.2H606.9" fill="none" stroke="#0000FF" stroke-width="2.4" stroke-linejoin="round" stroke-linecap="round"/>
<path d="M444.7 359.4H446V363H447.4V366.8H451.8V368.7H453.5V371H455.7V373.7H457.2V377H458.7V379.6H461.6V383.5H463.1V390.4H466.1V392.3H467V395.5H471V400H471.5V404.1H476.6V407H477.9V409.1H479.8V412H482.3V416H483.8V422.8H484.2V430H484.7V438.6H485.5V445H486.2V450.4H490V457H490.5V464.6H491.5V476.4H499V481H499.3V485.2H505V494H510.5V498H511.2V501H512.5V505H513.8V508H515.1V511H518.3V516.3H542.5V523.1H559.5V532.2H611.7" fill="none" stroke="#00FF00" stroke-width="2.4" stroke-linejoin="round" stroke-linecap="round"/>
<path d="M444.7 359.4H447.5V362.8H454.2V370H454.7V378.6H457.7V380.7H458.7V387.4H461.1V388.6H461.6V394H462.1V399.2H466.1V400.4H467V404H467.5V408.1H470.5V409.3H472.4V413H473V420H473.9V429.7H474.6V435H475.4V441.5H486.3V449.8H487.2V455H488V459.7H489.5V467.5H491.5V475.4H493.4V482.3H494.5V490H495.4V496H498.8V499H501.3V502.9H503.8V509.5H514.4V514H543.8V521.1H572V541.8" fill="none" stroke="#FF0000" stroke-width="2.4" stroke-linejoin="round" stroke-linecap="round"/>
<path d="M444.7 359.4H448.8V365H449.3V370.9H452.5V377H453.3V383.5H454V388H454.7V393.3H455.5V398H456.2V403.2H456.7V408H457.2V413H457.7V421.8H459V424H460.2V426.8H461.4V430H462.6V433.6H464V436H465.6V439.5H466.5V443H467.5V446.4H468V455H468.4V462H468.8V469.5H471.3V472.4H473.8V476.4H475.2V480.3H475.5V487H475.7V494.1H479.2V495.1H480.6V499H482.1V503.9H485.8V509H486.5V514.7H488.5V520H504.2V527.3H673.6" fill="none" stroke="#FFA500" stroke-width="2.4" stroke-linejoin="round" stroke-linecap="round"/>
<line x1="471.5" y1="376" x2="471.5" y2="385.4" stroke="#0000FF" stroke-width="1.2"/>
<line x1="503.3" y1="464.6" x2="503.3" y2="474" stroke="#0000FF" stroke-width="1.2"/>
<line x1="524.7" y1="475.7" x2="524.7" y2="485.1" stroke="#0000FF" stroke-width="1.2"/>
<line x1="528.7" y1="475.7" x2="528.7" y2="485.1" stroke="#0000FF" stroke-width="1.2"/>
<line x1="550.3" y1="510.5" x2="550.3" y2="519.9" stroke="#0000FF" stroke-width="1.2"/>
<line x1="606.9" y1="524.5" x2="606.9" y2="533.9" stroke="#0000FF" stroke-width="1.2"/>
<line x1="444.4" y1="354.7" x2="444.4" y2="364.1" stroke="#00FF00" stroke-width="1.2"/>
<line x1="513.6" y1="503.3" x2="513.6" y2="512.7" stroke="#00FF00" stroke-width="1.2"/>
<line x1="540.5" y1="511.6" x2="540.5" y2="521" stroke="#00FF00" stroke-width="1.2"/>
<line x1="551" y1="518.4" x2="551" y2="527.8" stroke="#00FF00" stroke-width="1.2"/>
<line x1="611.7" y1="527.5" x2="611.7" y2="536.9" stroke="#00FF00" stroke-width="1.2"/>
<line x1="453.3" y1="358.1" x2="453.3" y2="367.5" stroke="#FF0000" stroke-width="1.2"/>
<line x1="478.7" y1="436.8" x2="478.7" y2="446.2" stroke="#FF0000" stroke-width="1.2"/>
<line x1="520.5" y1="509.3" x2="520.5" y2="518.7" stroke="#FF0000" stroke-width="1.2"/>
<line x1="535.5" y1="509.3" x2="535.5" y2="518.7" stroke="#FF0000" stroke-width="1.2"/>
<line x1="553.4" y1="516.4" x2="553.4" y2="525.8" stroke="#FF0000" stroke-width="1.2"/>
<line x1="564.8" y1="516.4" x2="564.8" y2="525.8" stroke="#FF0000" stroke-width="1.2"/>
<line x1="482.1" y1="499.2" x2="482.1" y2="508.6" stroke="#FFA500" stroke-width="1.2"/>
<line x1="503.3" y1="515.3" x2="503.3" y2="524.7" stroke="#FFA500" stroke-width="1.2"/>
<line x1="505" y1="522.6" x2="505" y2="532" stroke="#FFA500" stroke-width="1.2"/>
<line x1="542.5" y1="522.6" x2="542.5" y2="532" stroke="#FFA500" stroke-width="1.2"/>
<line x1="673.6" y1="522.6" x2="673.6" y2="532" stroke="#FFA500" stroke-width="1.2"/>
</g>
<path d="M83.5 11.4V209.2H333" fill="none" stroke="#111" stroke-width="1.2"/>
<path d="M82.9 12H333V209.8" fill="none" stroke="#111" stroke-width="1.3"/>
<rect x="332" y="18.25" width="2.4" height="1.6" fill="#fff"/>
<rect x="332" y="201.2" width="2.4" height="1.6" fill="#fff"/>
<line x1="75.2" y1="201.8" x2="83.5" y2="201.8" stroke="#1a1a1a" stroke-width="1.3"/>
<text x="70.4" y="205.95" font-size="11.9" text-anchor="end" fill="#1a1a1a">0.00</text>
<line x1="75.2" y1="156.12" x2="83.5" y2="156.12" stroke="#1a1a1a" stroke-width="1.3"/>
<text x="70.4" y="160.28" font-size="11.9" text-anchor="end" fill="#1a1a1a">0.25</text>
<line x1="75.2" y1="110.45" x2="83.5" y2="110.45" stroke="#1a1a1a" stroke-width="1.3"/>
<text x="70.4" y="114.6" font-size="11.9" text-anchor="end" fill="#1a1a1a">0.50</text>
<line x1="75.2" y1="64.78" x2="83.5" y2="64.78" stroke="#1a1a1a" stroke-width="1.3"/>
<text x="70.4" y="68.93" font-size="11.9" text-anchor="end" fill="#1a1a1a">0.75</text>
<line x1="75.2" y1="19.1" x2="83.5" y2="19.1" stroke="#1a1a1a" stroke-width="1.3"/>
<text x="70.4" y="23.25" font-size="11.9" text-anchor="end" fill="#1a1a1a">1.00</text>
<line x1="92.7" y1="209.5" x2="323.7" y2="209.5" stroke="#1a1a1a" stroke-width="1.3"/>
<line x1="92.7" y1="209.2" x2="92.7" y2="217.7" stroke="#1a1a1a" stroke-width="1.3"/>
<text x="92.7" y="231.6" font-size="11.6" text-anchor="middle" fill="#1a1a1a">0</text>
<line x1="115.8" y1="209.2" x2="115.8" y2="217.7" stroke="#1a1a1a" stroke-width="1.3"/>
<text x="115.8" y="231.6" font-size="11.6" text-anchor="middle" fill="#1a1a1a">6</text>
<line x1="138.9" y1="209.2" x2="138.9" y2="217.7" stroke="#1a1a1a" stroke-width="1.3"/>
<text x="138.9" y="231.6" font-size="11.6" text-anchor="middle" fill="#1a1a1a">12</text>
<line x1="162" y1="209.2" x2="162" y2="217.7" stroke="#1a1a1a" stroke-width="1.3"/>
<line x1="185.1" y1="209.2" x2="185.1" y2="217.7" stroke="#1a1a1a" stroke-width="1.3"/>
<text x="185.1" y="231.6" font-size="11.6" text-anchor="middle" fill="#1a1a1a">24</text>
<line x1="208.2" y1="209.2" x2="208.2" y2="217.7" stroke="#1a1a1a" stroke-width="1.3"/>
<line x1="231.3" y1="209.2" x2="231.3" y2="217.7" stroke="#1a1a1a" stroke-width="1.3"/>
<text x="231.3" y="231.6" font-size="11.6" text-anchor="middle" fill="#1a1a1a">36</text>
<line x1="254.4" y1="209.2" x2="254.4" y2="217.7" stroke="#1a1a1a" stroke-width="1.3"/>
<line x1="277.5" y1="209.2" x2="277.5" y2="217.7" stroke="#1a1a1a" stroke-width="1.3"/>
<text x="277.5" y="231.6" font-size="11.6" text-anchor="middle" fill="#1a1a1a">48</text>
<line x1="300.6" y1="209.2" x2="300.6" y2="217.7" stroke="#1a1a1a" stroke-width="1.3"/>
<line x1="323.7" y1="209.2" x2="323.7" y2="217.7" stroke="#1a1a1a" stroke-width="1.3"/>
<text x="323.7" y="231.6" font-size="11.6" text-anchor="middle" fill="#1a1a1a">60</text>
<text x="208.2" y="248.6" font-size="11.8" text-anchor="middle" fill="#1a1a1a">Time from registration (months)</text>
<text transform="translate(35.9,110.2) rotate(-90)" x="0" y="0" font-size="11.8" text-anchor="middle" fill="#1a1a1a">Proportion of patients alive</text>
<line x1="269.3" y1="20.4" x2="285.1" y2="20.4" stroke="#0000FF" stroke-width="2.8" stroke-linecap="round"/>
<text x="292" y="24.1" font-size="10" fill="#1a1a1a">IL6 Q1</text>
<line x1="269.3" y1="30.7" x2="285.1" y2="30.7" stroke="#00FF00" stroke-width="2.8" stroke-linecap="round"/>
<text x="292" y="34.4" font-size="10" fill="#1a1a1a">IL6 Q2</text>
<line x1="269.3" y1="41" x2="285.1" y2="41" stroke="#FF0000" stroke-width="2.8" stroke-linecap="round"/>
<text x="292" y="44.7" font-size="10" fill="#1a1a1a">IL6 Q3</text>
<line x1="269.3" y1="51.3" x2="285.1" y2="51.3" stroke="#FFA500" stroke-width="2.8" stroke-linecap="round"/>
<text x="292" y="55" font-size="10" fill="#1a1a1a">IL6 Q4</text>
<text x="203.9" y="114" font-size="10.05" text-anchor="middle" fill="#1a1a1a"><tspan font-style="italic">p</tspan> &lt; 0.001</text>
</g>
<text x="351.3" y="605.7" font-size="12" font-weight="bold" fill="#111">Number at risk:</text>
<text x="425.1" y="621.5" font-size="11.6" font-weight="bold" text-anchor="end" fill="#111">IL6 Q1</text>
<text x="446" y="621.5" font-size="11.6" font-weight="bold" text-anchor="middle" fill="#0000FF">45</text>
<text x="469.1" y="621.5" font-size="11.6" font-weight="bold" text-anchor="middle" fill="#0000FF">39</text>
<text x="492.2" y="621.5" font-size="11.6" font-weight="bold" text-anchor="middle" fill="#0000FF">23</text>
<text x="515.3" y="621.5" font-size="11.6" font-weight="bold" text-anchor="middle" fill="#0000FF">11</text>
<text x="538.4" y="621.5" font-size="11.6" font-weight="bold" text-anchor="middle" fill="#0000FF">5</text>
<text x="561.5" y="621.5" font-size="11.6" font-weight="bold" text-anchor="middle" fill="#0000FF">2</text>
<text x="584.6" y="621.5" font-size="11.6" font-weight="bold" text-anchor="middle" fill="#0000FF">1</text>
<text x="607.7" y="621.5" font-size="11.6" font-weight="bold" text-anchor="middle" fill="#0000FF">1</text>
<text x="630.8" y="621.5" font-size="11.6" font-weight="bold" text-anchor="middle" fill="#0000FF">0</text>
<text x="653.9" y="621.5" font-size="11.6" font-weight="bold" text-anchor="middle" fill="#0000FF">0</text>
<text x="677" y="621.5" font-size="11.6" font-weight="bold" text-anchor="middle" fill="#0000FF">0</text>
<text x="425.1" y="637.7" font-size="11.6" font-weight="bold" text-anchor="end" fill="#111">IL6 Q2</text>
<text x="446" y="637.7" font-size="11.6" font-weight="bold" text-anchor="middle" fill="#00FF00">46</text>
<text x="469.1" y="637.7" font-size="11.6" font-weight="bold" text-anchor="middle" fill="#00FF00">36</text>
<text x="492.2" y="637.7" font-size="11.6" font-weight="bold" text-anchor="middle" fill="#00FF00">17</text>
<text x="515.3" y="637.7" font-size="11.6" font-weight="bold" text-anchor="middle" fill="#00FF00">8</text>
<text x="538.4" y="637.7" font-size="11.6" font-weight="bold" text-anchor="middle" fill="#00FF00">5</text>
<text x="561.5" y="637.7" font-size="11.6" font-weight="bold" text-anchor="middle" fill="#00FF00">1</text>
<text x="584.6" y="637.7" font-size="11.6" font-weight="bold" text-anchor="middle" fill="#00FF00">1</text>
<text x="607.7" y="637.7" font-size="11.6" font-weight="bold" text-anchor="middle" fill="#00FF00">1</text>
<text x="630.8" y="637.7" font-size="11.6" font-weight="bold" text-anchor="middle" fill="#00FF00">0</text>
<text x="653.9" y="637.7" font-size="11.6" font-weight="bold" text-anchor="middle" fill="#00FF00">0</text>
<text x="677" y="637.7" font-size="11.6" font-weight="bold" text-anchor="middle" fill="#00FF00">0</text>
<text x="425.1" y="653.9" font-size="11.6" font-weight="bold" text-anchor="end" fill="#111">IL6 Q3</text>
<text x="446" y="653.9" font-size="11.6" font-weight="bold" text-anchor="middle" fill="#FF0000">45</text>
<text x="469.1" y="653.9" font-size="11.6" font-weight="bold" text-anchor="middle" fill="#FF0000">32</text>
<text x="492.2" y="653.9" font-size="11.6" font-weight="bold" text-anchor="middle" fill="#FF0000">16</text>
<text x="515.3" y="653.9" font-size="11.6" font-weight="bold" text-anchor="middle" fill="#FF0000">7</text>
<text x="538.4" y="653.9" font-size="11.6" font-weight="bold" text-anchor="middle" fill="#FF0000">4</text>
<text x="561.5" y="653.9" font-size="11.6" font-weight="bold" text-anchor="middle" fill="#FF0000">2</text>
<text x="584.6" y="653.9" font-size="11.6" font-weight="bold" text-anchor="middle" fill="#FF0000">0</text>
<text x="607.7" y="653.9" font-size="11.6" font-weight="bold" text-anchor="middle" fill="#FF0000">0</text>
<text x="630.8" y="653.9" font-size="11.6" font-weight="bold" text-anchor="middle" fill="#FF0000">0</text>
<text x="653.9" y="653.9" font-size="11.6" font-weight="bold" text-anchor="middle" fill="#FF0000">0</text>
<text x="677" y="653.9" font-size="11.6" font-weight="bold" text-anchor="middle" fill="#FF0000">0</text>
<text x="425.1" y="669.9" font-size="11.6" font-weight="bold" text-anchor="end" fill="#111">IL6 Q4</text>
<text x="446" y="669.9" font-size="11.6" font-weight="bold" text-anchor="middle" fill="#FFA500">46</text>
<text x="469.1" y="669.9" font-size="11.6" font-weight="bold" text-anchor="middle" fill="#FFA500">22</text>
<text x="492.2" y="669.9" font-size="11.6" font-weight="bold" text-anchor="middle" fill="#FFA500">4</text>
<text x="515.3" y="669.9" font-size="11.6" font-weight="bold" text-anchor="middle" fill="#FFA500">2</text>
<text x="538.4" y="669.9" font-size="11.6" font-weight="bold" text-anchor="middle" fill="#FFA500">2</text>
<text x="561.5" y="669.9" font-size="11.6" font-weight="bold" text-anchor="middle" fill="#FFA500">1</text>
<text x="584.6" y="669.9" font-size="11.6" font-weight="bold" text-anchor="middle" fill="#FFA500">1</text>
<text x="607.7" y="669.9" font-size="11.6" font-weight="bold" text-anchor="middle" fill="#FFA500">1</text>
<text x="630.8" y="669.9" font-size="11.6" font-weight="bold" text-anchor="middle" fill="#FFA500">1</text>
<text x="653.9" y="669.9" font-size="11.6" font-weight="bold" text-anchor="middle" fill="#FFA500">1</text>
<text x="677" y="669.9" font-size="11.6" font-weight="bold" text-anchor="middle" fill="#FFA500">0</text>
<g transform="translate(0,681.2)">
<text x="3" y="13.1" font-size="17" font-weight="bold" fill="#000">e</text>
<g transform="translate(0,-681.2)">
<path d="M92.7 700.6H96V704H97.5V710H98.8V715H99.3V720.6H108.8V724.5H112.7V728H113V732.4H114.5V736.3H115.7V740H117V744.2H117.5V750H118V757H120.4V762.8H121.9V769.7H123.9V776.6H124.6V782H125.3V787.4H127.3V793.3H127.9V799.8H128.6V806H129.4V812.6H132V817H132.9V821.5H134.3V829.3H138.3V831H139.7V837.2H141.7V841.1H145.1V844.1H146.6V849H147.3V853H148.1V858.4H158.1V867.8H163.8V878.2H321.7" fill="none" stroke="#0000FF" stroke-width="2.4" stroke-linejoin="round" stroke-linecap="round"/>
<path d="M92.7 700.6H95.8V702H97.5V705H99V708H99.8V715H100.5V722H101.3V729H102.3V735H103.7V740.2H107.6V744.2H108.6V749H109.6V754H111.6V761.9H113V766H114.5V769.7H117.5V773.7H119.4V780.5H121.4V787.4H122.2V792H122.8V797H123.5V802.8H125.5V809.7H126.5V816H127.4V822.4H130.4V828.3H133.3V833.3H137.3V837.2H139.2V843.1H141.2V849H144.7V852.9H146.1V857.8H147.6V864.6H158.5V869H160V873H161.4V876.8H183.3V883" fill="none" stroke="#00FF00" stroke-width="2.4" stroke-linejoin="round" stroke-linecap="round"/>
<path d="M92.7 700.1H99.6V704H100.2V708.8H101.7V712.7H102.2V718H102.7V724.5H104.2V732.4H105.2V741.2H106.2V751H109.6V757H110.1V763.8H111.6V773.7H113.2V777H114V786.4H114.5V793H115V802.8H116.1V809.7H117.1V815H121.3V821H121.5V828.3H123.5V831.3H124V836H124.5V841.1H126.5V844.1H128.9V849H130.4V853.9H132.9V858.8H138.5V863.7H140.7V868.5H156.5V873H158.1V878.1H170V883" fill="none" stroke="#FF0000" stroke-width="2.4" stroke-linejoin="round" stroke-linecap="round"/>
<path d="M92.7 700.6H94.8V704.8H95.5V714H96.3V723.5H98.5V730H98.8V738.3H99.8V744H100.7V750.1H101.2V757H101.7V763.8H104.7V765H105.7V770.7H106.4V775H107.1V779.6H109.6V783.5H110.2V790H110.7V799.8H114.2V804.7H114.8V815H115.6V828.8H126V833.3H130.8V840H131.4V847H134.8V851H135.3V855.9H143V860.3H150.5V864.8H160V874.3H260.2" fill="none" stroke="#FFA500" stroke-width="2.4" stroke-linejoin="round" stroke-linecap="round"/>
<line x1="321.7" y1="873.5" x2="321.7" y2="882.9" stroke="#0000FF" stroke-width="1.2"/>
<line x1="92.4" y1="695.4" x2="92.4" y2="704.8" stroke="#FF0000" stroke-width="1.2"/>
<line x1="116.4" y1="824.1" x2="116.4" y2="833.5" stroke="#FFA500" stroke-width="1.2"/>
<line x1="212" y1="869.6" x2="212" y2="879" stroke="#FFA500" stroke-width="1.2"/>
<line x1="260.2" y1="869.6" x2="260.2" y2="879" stroke="#FFA500" stroke-width="1.2"/>
</g>
<path d="M83.5 11.7V209.2H333" fill="none" stroke="#111" stroke-width="1.2"/>
<path d="M82.9 12.3H333V209.8" fill="none" stroke="#111" stroke-width="1.3"/>
<rect x="332" y="18.25" width="2.4" height="1.6" fill="#fff"/>
<rect x="332" y="201.2" width="2.4" height="1.6" fill="#fff"/>
<line x1="75.2" y1="201.8" x2="83.5" y2="201.8" stroke="#1a1a1a" stroke-width="1.3"/>
<text x="70.4" y="205.95" font-size="11.9" text-anchor="end" fill="#1a1a1a">0.00</text>
<line x1="75.2" y1="156.12" x2="83.5" y2="156.12" stroke="#1a1a1a" stroke-width="1.3"/>
<text x="70.4" y="160.28" font-size="11.9" text-anchor="end" fill="#1a1a1a">0.25</text>
<line x1="75.2" y1="110.45" x2="83.5" y2="110.45" stroke="#1a1a1a" stroke-width="1.3"/>
<text x="70.4" y="114.6" font-size="11.9" text-anchor="end" fill="#1a1a1a">0.50</text>
<line x1="75.2" y1="64.78" x2="83.5" y2="64.78" stroke="#1a1a1a" stroke-width="1.3"/>
<text x="70.4" y="68.93" font-size="11.9" text-anchor="end" fill="#1a1a1a">0.75</text>
<line x1="75.2" y1="19.1" x2="83.5" y2="19.1" stroke="#1a1a1a" stroke-width="1.3"/>
<text x="70.4" y="23.25" font-size="11.9" text-anchor="end" fill="#1a1a1a">1.00</text>
<line x1="92.7" y1="209.5" x2="323.7" y2="209.5" stroke="#1a1a1a" stroke-width="1.3"/>
<line x1="92.7" y1="209.2" x2="92.7" y2="217.7" stroke="#1a1a1a" stroke-width="1.3"/>
<text x="92.7" y="231.6" font-size="11.6" text-anchor="middle" fill="#1a1a1a">0</text>
<line x1="115.8" y1="209.2" x2="115.8" y2="217.7" stroke="#1a1a1a" stroke-width="1.3"/>
<text x="115.8" y="231.6" font-size="11.6" text-anchor="middle" fill="#1a1a1a">6</text>
<line x1="138.9" y1="209.2" x2="138.9" y2="217.7" stroke="#1a1a1a" stroke-width="1.3"/>
<text x="138.9" y="231.6" font-size="11.6" text-anchor="middle" fill="#1a1a1a">12</text>
<line x1="162" y1="209.2" x2="162" y2="217.7" stroke="#1a1a1a" stroke-width="1.3"/>
<line x1="185.1" y1="209.2" x2="185.1" y2="217.7" stroke="#1a1a1a" stroke-width="1.3"/>
<text x="185.1" y="231.6" font-size="11.6" text-anchor="middle" fill="#1a1a1a">24</text>
<line x1="208.2" y1="209.2" x2="208.2" y2="217.7" stroke="#1a1a1a" stroke-width="1.3"/>
<line x1="231.3" y1="209.2" x2="231.3" y2="217.7" stroke="#1a1a1a" stroke-width="1.3"/>
<text x="231.3" y="231.6" font-size="11.6" text-anchor="middle" fill="#1a1a1a">36</text>
<line x1="254.4" y1="209.2" x2="254.4" y2="217.7" stroke="#1a1a1a" stroke-width="1.3"/>
<line x1="277.5" y1="209.2" x2="277.5" y2="217.7" stroke="#1a1a1a" stroke-width="1.3"/>
<text x="277.5" y="231.6" font-size="11.6" text-anchor="middle" fill="#1a1a1a">48</text>
<line x1="300.6" y1="209.2" x2="300.6" y2="217.7" stroke="#1a1a1a" stroke-width="1.3"/>
<line x1="323.7" y1="209.2" x2="323.7" y2="217.7" stroke="#1a1a1a" stroke-width="1.3"/>
<text x="323.7" y="231.6" font-size="11.6" text-anchor="middle" fill="#1a1a1a">60</text>
<text x="208.2" y="248.6" font-size="11.8" text-anchor="middle" fill="#1a1a1a">Time from registration (months)</text>
<text transform="translate(35.9,110.2) rotate(-90)" x="0" y="0" font-size="11.8" text-anchor="middle" fill="#1a1a1a">Proportion alive and progression free</text>
<line x1="269.3" y1="20.4" x2="285.1" y2="20.4" stroke="#0000FF" stroke-width="2.8" stroke-linecap="round"/>
<text x="292" y="24.1" font-size="10" fill="#1a1a1a">IL8 Q1</text>
<line x1="269.3" y1="30.7" x2="285.1" y2="30.7" stroke="#00FF00" stroke-width="2.8" stroke-linecap="round"/>
<text x="292" y="34.4" font-size="10" fill="#1a1a1a">IL8 Q2</text>
<line x1="269.3" y1="41" x2="285.1" y2="41" stroke="#FF0000" stroke-width="2.8" stroke-linecap="round"/>
<text x="292" y="44.7" font-size="10" fill="#1a1a1a">IL8 Q3</text>
<line x1="269.3" y1="51.3" x2="285.1" y2="51.3" stroke="#FFA500" stroke-width="2.8" stroke-linecap="round"/>
<text x="292" y="55" font-size="10" fill="#1a1a1a">IL8 Q4</text>
<text x="203.9" y="114" font-size="10.05" text-anchor="middle" fill="#1a1a1a"><tspan font-style="italic">p</tspan> = 0.02</text>
</g>
<text x="-1" y="950.8" font-size="12" font-weight="bold" fill="#111">Number at risk:</text>
<text x="72.8" y="965.9" font-size="11.6" font-weight="bold" text-anchor="end" fill="#111">IL8 Q1</text>
<text x="94" y="965.9" font-size="11.6" font-weight="bold" text-anchor="middle" fill="#0000FF">45</text>
<text x="117.1" y="965.9" font-size="11.6" font-weight="bold" text-anchor="middle" fill="#0000FF">35</text>
<text x="140.2" y="965.9" font-size="11.6" font-weight="bold" text-anchor="middle" fill="#0000FF">11</text>
<text x="163.3" y="965.9" font-size="11.6" font-weight="bold" text-anchor="middle" fill="#0000FF">3</text>
<text x="186.4" y="965.9" font-size="11.6" font-weight="bold" text-anchor="middle" fill="#0000FF">1</text>
<text x="209.5" y="965.9" font-size="11.6" font-weight="bold" text-anchor="middle" fill="#0000FF">1</text>
<text x="232.6" y="965.9" font-size="11.6" font-weight="bold" text-anchor="middle" fill="#0000FF">1</text>
<text x="255.7" y="965.9" font-size="11.6" font-weight="bold" text-anchor="middle" fill="#0000FF">1</text>
<text x="278.8" y="965.9" font-size="11.6" font-weight="bold" text-anchor="middle" fill="#0000FF">1</text>
<text x="301.9" y="965.9" font-size="11.6" font-weight="bold" text-anchor="middle" fill="#0000FF">1</text>
<text x="325" y="965.9" font-size="11.6" font-weight="bold" text-anchor="middle" fill="#0000FF">0</text>
<text x="72.8" y="982.1" font-size="11.6" font-weight="bold" text-anchor="end" fill="#111">IL8 Q2</text>
<text x="94" y="982.1" font-size="11.6" font-weight="bold" text-anchor="middle" fill="#00FF00">46</text>
<text x="117.1" y="982.1" font-size="11.6" font-weight="bold" text-anchor="middle" fill="#00FF00">27</text>
<text x="140.2" y="982.1" font-size="11.6" font-weight="bold" text-anchor="middle" fill="#00FF00">9</text>
<text x="163.3" y="982.1" font-size="11.6" font-weight="bold" text-anchor="middle" fill="#00FF00">1</text>
<text x="186.4" y="982.1" font-size="11.6" font-weight="bold" text-anchor="middle" fill="#00FF00">0</text>
<text x="209.5" y="982.1" font-size="11.6" font-weight="bold" text-anchor="middle" fill="#00FF00">0</text>
<text x="232.6" y="982.1" font-size="11.6" font-weight="bold" text-anchor="middle" fill="#00FF00">0</text>
<text x="255.7" y="982.1" font-size="11.6" font-weight="bold" text-anchor="middle" fill="#00FF00">0</text>
<text x="278.8" y="982.1" font-size="11.6" font-weight="bold" text-anchor="middle" fill="#00FF00">0</text>
<text x="301.9" y="982.1" font-size="11.6" font-weight="bold" text-anchor="middle" fill="#00FF00">0</text>
<text x="325" y="982.1" font-size="11.6" font-weight="bold" text-anchor="middle" fill="#00FF00">0</text>
<text x="72.8" y="998.3" font-size="11.6" font-weight="bold" text-anchor="end" fill="#111">IL8 Q3</text>
<text x="94" y="998.3" font-size="11.6" font-weight="bold" text-anchor="middle" fill="#FF0000">45</text>
<text x="117.1" y="998.3" font-size="11.6" font-weight="bold" text-anchor="middle" fill="#FF0000">17</text>
<text x="140.2" y="998.3" font-size="11.6" font-weight="bold" text-anchor="middle" fill="#FF0000">4</text>
<text x="163.3" y="998.3" font-size="11.6" font-weight="bold" text-anchor="middle" fill="#FF0000">1</text>
<text x="186.4" y="998.3" font-size="11.6" font-weight="bold" text-anchor="middle" fill="#FF0000">0</text>
<text x="209.5" y="998.3" font-size="11.6" font-weight="bold" text-anchor="middle" fill="#FF0000">0</text>
<text x="232.6" y="998.3" font-size="11.6" font-weight="bold" text-anchor="middle" fill="#FF0000">0</text>
<text x="255.7" y="998.3" font-size="11.6" font-weight="bold" text-anchor="middle" fill="#FF0000">0</text>
<text x="278.8" y="998.3" font-size="11.6" font-weight="bold" text-anchor="middle" fill="#FF0000">0</text>
<text x="301.9" y="998.3" font-size="11.6" font-weight="bold" text-anchor="middle" fill="#FF0000">0</text>
<text x="325" y="998.3" font-size="11.6" font-weight="bold" text-anchor="middle" fill="#FF0000">0</text>
<text x="72.8" y="1014.4" font-size="11.6" font-weight="bold" text-anchor="end" fill="#111">IL8 Q4</text>
<text x="94" y="1014.4" font-size="11.6" font-weight="bold" text-anchor="middle" fill="#FFA500">46</text>
<text x="117.1" y="1014.4" font-size="11.6" font-weight="bold" text-anchor="middle" fill="#FFA500">15</text>
<text x="140.2" y="1014.4" font-size="11.6" font-weight="bold" text-anchor="middle" fill="#FFA500">6</text>
<text x="163.3" y="1014.4" font-size="11.6" font-weight="bold" text-anchor="middle" fill="#FFA500">2</text>
<text x="186.4" y="1014.4" font-size="11.6" font-weight="bold" text-anchor="middle" fill="#FFA500">2</text>
<text x="209.5" y="1014.4" font-size="11.6" font-weight="bold" text-anchor="middle" fill="#FFA500">2</text>
<text x="232.6" y="1014.4" font-size="11.6" font-weight="bold" text-anchor="middle" fill="#FFA500">1</text>
<text x="255.7" y="1014.4" font-size="11.6" font-weight="bold" text-anchor="middle" fill="#FFA500">1</text>
<text x="278.8" y="1014.4" font-size="11.6" font-weight="bold" text-anchor="middle" fill="#FFA500">0</text>
<text x="301.9" y="1014.4" font-size="11.6" font-weight="bold" text-anchor="middle" fill="#FFA500">0</text>
<text x="325" y="1014.4" font-size="11.6" font-weight="bold" text-anchor="middle" fill="#FFA500">0</text>
<g transform="translate(352,681.2)">
<text x="-1.5" y="12.5" font-size="17" font-weight="bold" fill="#000">f</text>
<g transform="translate(-352,-681.2)">
<path d="M444.7 700.6H449.5V701.9H452.5V706H454.5V709H459.7V712.7H463.3V718.6H465.5V723H466.5V727.4H472V729.4H473.4V733.3H474.9V737.3H477.4V741.2H479.3V745.1H480.8V752H481.8V761.9H484.7V763.8H486.2V767.8H488.7V771.7H490.1V775.6H491.1V785.5H492.1V792.3H494.4V796.9H495.5V801H496.4V805.7H498.8V809.7H510.8V815.1H514V825.2H532.3V833.5H540.9V843.4H570.4V857H673.6" fill="none" stroke="#0000FF" stroke-width="2.4" stroke-linejoin="round" stroke-linecap="round"/>
<path d="M444.7 700.6H445.5V702.9H453.3V705.8H455.2V711.7H457V715H459.7V719.6H463.6V723.5H469.8V730H470V736.3H473.4V738.3H474.2V744H474.9V749.1H476.9V757.9H478V763H478.8V767.8H483.5V772H484.7V776.6H486.2V782.5H488.7V788H489.2V795H490V800H490.5V805.7H492.9V809.7H496.4V814.6H498.3V821.5H499V828H499.3V835.2H505V845H518.8V849.8H537.1V856.6H559.4V869.6H572.4V883" fill="none" stroke="#00FF00" stroke-width="2.4" stroke-linejoin="round" stroke-linecap="round"/>
<path d="M444.7 700.1H456.6V709.7H457.2V716H457.7V723.5H458.2V733.3H461.6V738H462.6V742.2H464.6V745.1H466.5V750.1H468.5V755.5H471.3V762H472V767.8H472.7V775H473.4V781.5H475.4V783.5H476.9V789.4H479.3V793.3H484.6V800.8H486.3V810H487V818.5H489.5V822.4H490.3V827H491V832.3H493.9V836.2H496.4V840.1H499.3V845.1H501.3V849H502.5V852H503.3V854.9H508.7V858.8H510.6V864.7H512.1V869.3H545.5V883" fill="none" stroke="#FF0000" stroke-width="2.4" stroke-linejoin="round" stroke-linecap="round"/>
<path d="M444.7 700.6H447.2V704.8H448V712H448.8V720.6H452.8V722.5H453.5V729H454.3V736.3H454.8V742H455.2V748.1H456.7V754H457.2V759H457.7V764.8H461.6V773H462.1V781.5H466.5V787H467.5V793.3H468V800H468.4V806.7H474.5V810.6H475.7V817H476.2V824.4H482.5V832H483.1V840.1H488.5V845.6H502.5V851H504.2V856.8H514.4V861.6H544V872.4H612" fill="none" stroke="#FFA500" stroke-width="2.4" stroke-linejoin="round" stroke-linecap="round"/>
<line x1="503.3" y1="805" x2="503.3" y2="814.4" stroke="#0000FF" stroke-width="1.2"/>
<line x1="513.9" y1="820.5" x2="513.9" y2="829.9" stroke="#0000FF" stroke-width="1.2"/>
<line x1="528.4" y1="820.5" x2="528.4" y2="829.9" stroke="#0000FF" stroke-width="1.2"/>
<line x1="535.6" y1="828.8" x2="535.6" y2="838.2" stroke="#0000FF" stroke-width="1.2"/>
<line x1="553.4" y1="838.7" x2="553.4" y2="848.1" stroke="#0000FF" stroke-width="1.2"/>
<line x1="606.9" y1="852.3" x2="606.9" y2="861.7" stroke="#0000FF" stroke-width="1.2"/>
<line x1="673.6" y1="852.3" x2="673.6" y2="861.7" stroke="#0000FF" stroke-width="1.2"/>
<line x1="486" y1="777.8" x2="486" y2="787.2" stroke="#00FF00" stroke-width="1.2"/>
<line x1="520.2" y1="845.1" x2="520.2" y2="854.5" stroke="#00FF00" stroke-width="1.2"/>
<line x1="524.7" y1="845.1" x2="524.7" y2="854.5" stroke="#00FF00" stroke-width="1.2"/>
<line x1="550.7" y1="851.9" x2="550.7" y2="861.3" stroke="#00FF00" stroke-width="1.2"/>
<line x1="564.3" y1="864.9" x2="564.3" y2="874.3" stroke="#00FF00" stroke-width="1.2"/>
<line x1="444.4" y1="695.4" x2="444.4" y2="704.8" stroke="#FF0000" stroke-width="1.2"/>
<line x1="476.9" y1="788.6" x2="476.9" y2="798" stroke="#FF0000" stroke-width="1.2"/>
<line x1="540.3" y1="864.6" x2="540.3" y2="874" stroke="#FF0000" stroke-width="1.2"/>
<line x1="541.8" y1="864.6" x2="541.8" y2="874" stroke="#FF0000" stroke-width="1.2"/>
<line x1="469.3" y1="802" x2="469.3" y2="811.4" stroke="#FFA500" stroke-width="1.2"/>
<line x1="478.7" y1="819.7" x2="478.7" y2="829.1" stroke="#FFA500" stroke-width="1.2"/>
<line x1="564.3" y1="867.7" x2="564.3" y2="877.1" stroke="#FFA500" stroke-width="1.2"/>
<line x1="612" y1="867.7" x2="612" y2="877.1" stroke="#FFA500" stroke-width="1.2"/>
</g>
<path d="M83.5 11.7V209.2H333" fill="none" stroke="#111" stroke-width="1.2"/>
<path d="M82.9 12.3H333V209.8" fill="none" stroke="#111" stroke-width="1.3"/>
<rect x="332" y="18.25" width="2.4" height="1.6" fill="#fff"/>
<rect x="332" y="201.2" width="2.4" height="1.6" fill="#fff"/>
<line x1="75.2" y1="201.8" x2="83.5" y2="201.8" stroke="#1a1a1a" stroke-width="1.3"/>
<text x="70.4" y="205.95" font-size="11.9" text-anchor="end" fill="#1a1a1a">0.00</text>
<line x1="75.2" y1="156.12" x2="83.5" y2="156.12" stroke="#1a1a1a" stroke-width="1.3"/>
<text x="70.4" y="160.28" font-size="11.9" text-anchor="end" fill="#1a1a1a">0.25</text>
<line x1="75.2" y1="110.45" x2="83.5" y2="110.45" stroke="#1a1a1a" stroke-width="1.3"/>
<text x="70.4" y="114.6" font-size="11.9" text-anchor="end" fill="#1a1a1a">0.50</text>
<line x1="75.2" y1="64.78" x2="83.5" y2="64.78" stroke="#1a1a1a" stroke-width="1.3"/>
<text x="70.4" y="68.93" font-size="11.9" text-anchor="end" fill="#1a1a1a">0.75</text>
<line x1="75.2" y1="19.1" x2="83.5" y2="19.1" stroke="#1a1a1a" stroke-width="1.3"/>
<text x="70.4" y="23.25" font-size="11.9" text-anchor="end" fill="#1a1a1a">1.00</text>
<line x1="92.7" y1="209.5" x2="323.7" y2="209.5" stroke="#1a1a1a" stroke-width="1.3"/>
<line x1="92.7" y1="209.2" x2="92.7" y2="217.7" stroke="#1a1a1a" stroke-width="1.3"/>
<text x="92.7" y="231.6" font-size="11.6" text-anchor="middle" fill="#1a1a1a">0</text>
<line x1="115.8" y1="209.2" x2="115.8" y2="217.7" stroke="#1a1a1a" stroke-width="1.3"/>
<text x="115.8" y="231.6" font-size="11.6" text-anchor="middle" fill="#1a1a1a">6</text>
<line x1="138.9" y1="209.2" x2="138.9" y2="217.7" stroke="#1a1a1a" stroke-width="1.3"/>
<text x="138.9" y="231.6" font-size="11.6" text-anchor="middle" fill="#1a1a1a">12</text>
<line x1="162" y1="209.2" x2="162" y2="217.7" stroke="#1a1a1a" stroke-width="1.3"/>
<line x1="185.1" y1="209.2" x2="185.1" y2="217.7" stroke="#1a1a1a" stroke-width="1.3"/>
<text x="185.1" y="231.6" font-size="11.6" text-anchor="middle" fill="#1a1a1a">24</text>
<line x1="208.2" y1="209.2" x2="208.2" y2="217.7" stroke="#1a1a1a" stroke-width="1.3"/>
<line x1="231.3" y1="209.2" x2="231.3" y2="217.7" stroke="#1a1a1a" stroke-width="1.3"/>
<text x="231.3" y="231.6" font-size="11.6" text-anchor="middle" fill="#1a1a1a">36</text>
<line x1="254.4" y1="209.2" x2="254.4" y2="217.7" stroke="#1a1a1a" stroke-width="1.3"/>
<line x1="277.5" y1="209.2" x2="277.5" y2="217.7" stroke="#1a1a1a" stroke-width="1.3"/>
<text x="277.5" y="231.6" font-size="11.6" text-anchor="middle" fill="#1a1a1a">48</text>
<line x1="300.6" y1="209.2" x2="300.6" y2="217.7" stroke="#1a1a1a" stroke-width="1.3"/>
<line x1="323.7" y1="209.2" x2="323.7" y2="217.7" stroke="#1a1a1a" stroke-width="1.3"/>
<text x="323.7" y="231.6" font-size="11.6" text-anchor="middle" fill="#1a1a1a">60</text>
<text x="208.2" y="248.6" font-size="11.8" text-anchor="middle" fill="#1a1a1a">Time from registration (months)</text>
<text transform="translate(35.9,110.2) rotate(-90)" x="0" y="0" font-size="11.8" text-anchor="middle" fill="#1a1a1a">Proportion of patients alive</text>
<line x1="269.3" y1="20.4" x2="285.1" y2="20.4" stroke="#0000FF" stroke-width="2.8" stroke-linecap="round"/>
<text x="292" y="24.1" font-size="10" fill="#1a1a1a">IL8 Q1</text>
<line x1="269.3" y1="30.7" x2="285.1" y2="30.7" stroke="#00FF00" stroke-width="2.8" stroke-linecap="round"/>
<text x="292" y="34.4" font-size="10" fill="#1a1a1a">IL8 Q2</text>
<line x1="269.3" y1="41" x2="285.1" y2="41" stroke="#FF0000" stroke-width="2.8" stroke-linecap="round"/>
<text x="292" y="44.7" font-size="10" fill="#1a1a1a">IL8 Q3</text>
<line x1="269.3" y1="51.3" x2="285.1" y2="51.3" stroke="#FFA500" stroke-width="2.8" stroke-linecap="round"/>
<text x="292" y="55" font-size="10" fill="#1a1a1a">IL8 Q4</text>
<text x="203.9" y="114" font-size="10.05" text-anchor="middle" fill="#1a1a1a"><tspan font-style="italic">p</tspan> &lt; 0.001</text>
</g>
<text x="352.7" y="950.3" font-size="12" font-weight="bold" fill="#111">Number at risk:</text>
<text x="426.8" y="966.5" font-size="11.6" font-weight="bold" text-anchor="end" fill="#111">IL8 Q1</text>
<text x="446" y="966.5" font-size="11.6" font-weight="bold" text-anchor="middle" fill="#0000FF">45</text>
<text x="469.1" y="966.5" font-size="11.6" font-weight="bold" text-anchor="middle" fill="#0000FF">38</text>
<text x="492.2" y="966.5" font-size="11.6" font-weight="bold" text-anchor="middle" fill="#0000FF">24</text>
<text x="515.3" y="966.5" font-size="11.6" font-weight="bold" text-anchor="middle" fill="#0000FF">12</text>
<text x="538.4" y="966.5" font-size="11.6" font-weight="bold" text-anchor="middle" fill="#0000FF">5</text>
<text x="561.5" y="966.5" font-size="11.6" font-weight="bold" text-anchor="middle" fill="#0000FF">3</text>
<text x="584.6" y="966.5" font-size="11.6" font-weight="bold" text-anchor="middle" fill="#0000FF">2</text>
<text x="607.7" y="966.5" font-size="11.6" font-weight="bold" text-anchor="middle" fill="#0000FF">2</text>
<text x="630.8" y="966.5" font-size="11.6" font-weight="bold" text-anchor="middle" fill="#0000FF">1</text>
<text x="653.9" y="966.5" font-size="11.6" font-weight="bold" text-anchor="middle" fill="#0000FF">1</text>
<text x="677" y="966.5" font-size="11.6" font-weight="bold" text-anchor="middle" fill="#0000FF">0</text>
<text x="426.8" y="982.5" font-size="11.6" font-weight="bold" text-anchor="end" fill="#111">IL8 Q2</text>
<text x="446" y="982.5" font-size="11.6" font-weight="bold" text-anchor="middle" fill="#00FF00">46</text>
<text x="469.1" y="982.5" font-size="11.6" font-weight="bold" text-anchor="middle" fill="#00FF00">40</text>
<text x="492.2" y="982.5" font-size="11.6" font-weight="bold" text-anchor="middle" fill="#00FF00">18</text>
<text x="515.3" y="982.5" font-size="11.6" font-weight="bold" text-anchor="middle" fill="#00FF00">8</text>
<text x="538.4" y="982.5" font-size="11.6" font-weight="bold" text-anchor="middle" fill="#00FF00">4</text>
<text x="561.5" y="982.5" font-size="11.6" font-weight="bold" text-anchor="middle" fill="#00FF00">1</text>
<text x="584.6" y="982.5" font-size="11.6" font-weight="bold" text-anchor="middle" fill="#00FF00">0</text>
<text x="607.7" y="982.5" font-size="11.6" font-weight="bold" text-anchor="middle" fill="#00FF00">0</text>
<text x="630.8" y="982.5" font-size="11.6" font-weight="bold" text-anchor="middle" fill="#00FF00">0</text>
<text x="653.9" y="982.5" font-size="11.6" font-weight="bold" text-anchor="middle" fill="#00FF00">0</text>
<text x="677" y="982.5" font-size="11.6" font-weight="bold" text-anchor="middle" fill="#00FF00">0</text>
<text x="426.8" y="998.6" font-size="11.6" font-weight="bold" text-anchor="end" fill="#111">IL8 Q3</text>
<text x="446" y="998.6" font-size="11.6" font-weight="bold" text-anchor="middle" fill="#FF0000">45</text>
<text x="469.1" y="998.6" font-size="11.6" font-weight="bold" text-anchor="middle" fill="#FF0000">31</text>
<text x="492.2" y="998.6" font-size="11.6" font-weight="bold" text-anchor="middle" fill="#FF0000">11</text>
<text x="515.3" y="998.6" font-size="11.6" font-weight="bold" text-anchor="middle" fill="#FF0000">3</text>
<text x="538.4" y="998.6" font-size="11.6" font-weight="bold" text-anchor="middle" fill="#FF0000">3</text>
<text x="561.5" y="998.6" font-size="11.6" font-weight="bold" text-anchor="middle" fill="#FF0000">0</text>
<text x="584.6" y="998.6" font-size="11.6" font-weight="bold" text-anchor="middle" fill="#FF0000">0</text>
<text x="607.7" y="998.6" font-size="11.6" font-weight="bold" text-anchor="middle" fill="#FF0000">0</text>
<text x="630.8" y="998.6" font-size="11.6" font-weight="bold" text-anchor="middle" fill="#FF0000">0</text>
<text x="653.9" y="998.6" font-size="11.6" font-weight="bold" text-anchor="middle" fill="#FF0000">0</text>
<text x="677" y="998.6" font-size="11.6" font-weight="bold" text-anchor="middle" fill="#FF0000">0</text>
<text x="426.8" y="1014.6" font-size="11.6" font-weight="bold" text-anchor="end" fill="#111">IL8 Q4</text>
<text x="446" y="1014.6" font-size="11.6" font-weight="bold" text-anchor="middle" fill="#FFA500">46</text>
<text x="469.1" y="1014.6" font-size="11.6" font-weight="bold" text-anchor="middle" fill="#FFA500">20</text>
<text x="492.2" y="1014.6" font-size="11.6" font-weight="bold" text-anchor="middle" fill="#FFA500">7</text>
<text x="515.3" y="1014.6" font-size="11.6" font-weight="bold" text-anchor="middle" fill="#FFA500">5</text>
<text x="538.4" y="1014.6" font-size="11.6" font-weight="bold" text-anchor="middle" fill="#FFA500">4</text>
<text x="561.5" y="1014.6" font-size="11.6" font-weight="bold" text-anchor="middle" fill="#FFA500">2</text>
<text x="584.6" y="1014.6" font-size="11.6" font-weight="bold" text-anchor="middle" fill="#FFA500">1</text>
<text x="607.7" y="1014.6" font-size="11.6" font-weight="bold" text-anchor="middle" fill="#FFA500">1</text>
<text x="630.8" y="1014.6" font-size="11.6" font-weight="bold" text-anchor="middle" fill="#FFA500">0</text>
<text x="653.9" y="1014.6" font-size="11.6" font-weight="bold" text-anchor="middle" fill="#FFA500">0</text>
<text x="677" y="1014.6" font-size="11.6" font-weight="bold" text-anchor="middle" fill="#FFA500">0</text>
</svg></body></html>
